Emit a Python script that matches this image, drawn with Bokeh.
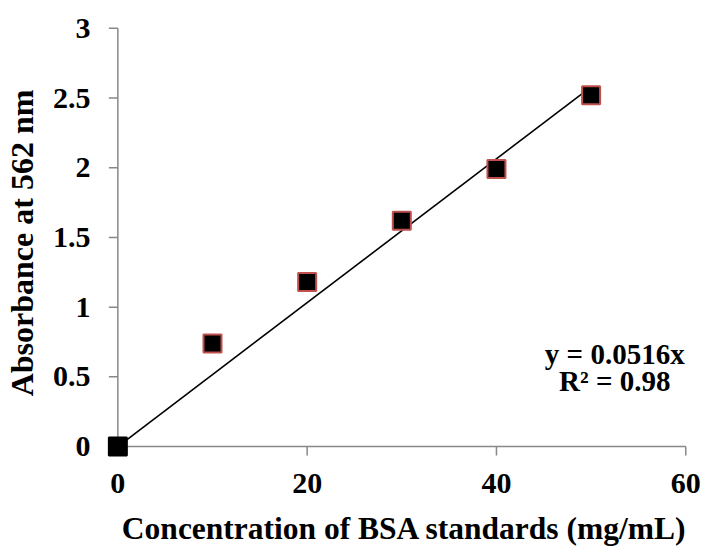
import math
from bokeh.plotting import figure
from bokeh.models import FixedTicker, Range1d, Label
from bokeh.embed import file_html
from bokeh.resources import INLINE

# Data
concentration = [0, 10, 20, 30, 40, 50]
absorbance = [0.0, 0.74, 1.18, 1.62, 1.99, 2.52]
slope = 0.0516
r_squared = 0.98

x_ticks = [0, 20, 40, 60]
y_ticks = [0, 0.5, 1, 1.5, 2, 2.5, 3]
y_tick_labels = ["0", "0.5", "1", "1.5", "2", "2.5", "3"]

FONT = "Liberation Serif"
AXIS_GRAY = "#888888"

# small padding below/left of zero so the marker at the origin is not clipped
p = figure(width=702, height=548, output_backend="svg", toolbar_location=None,
           x_range=Range1d(-1.2, 61.77), y_range=Range1d(-0.1, 3.02),
           min_border_left=104, min_border_right=0, min_border_top=25, min_border_bottom=84)
p.outline_line_color = None
p.grid.visible = False
p.background_fill_color = "white"
p.border_fill_color = "white"

# axis lines and tick marks at the data zero lines
x0, x1 = x_ticks[0], x_ticks[-1]
y0, y1 = y_ticks[0], y_ticks[-1]
p.line([x0, x1], [y0, y0], line_color=AXIS_GRAY, line_width=1.5)
p.line([x0, x0], [y0, y1], line_color=AXIS_GRAY, line_width=1.5)
p.ray(x=[x0] * len(y_ticks), y=y_ticks, length=9, length_units="screen",
      angle=math.pi, line_color=AXIS_GRAY, line_width=1.5)
p.ray(x=x_ticks, y=[y0] * len(x_ticks), length=9, length_units="screen",
      angle=-math.pi / 2, line_color=AXIS_GRAY, line_width=1.5)

# trendline y = slope * x through the data range
xl = [min(concentration), max(concentration)]
p.line(xl, [slope * v for v in xl], line_color="black", line_width=1.6)

border_colors = ["black"] + ["#c0504d"] * (len(concentration) - 1)
p.scatter(concentration, absorbance, marker="square", size=18,
          fill_color="black", line_color=border_colors, line_width=2)

for ax in (p.xaxis[0], p.yaxis[0]):
    ax.axis_line_color = None
    ax.major_tick_line_color = None
    ax.major_tick_out = 0
    ax.major_tick_in = 0
    ax.minor_tick_line_color = None
    ax.major_label_text_font = FONT
    ax.major_label_text_font_style = "bold"
    ax.major_label_text_font_size = "30px"
    ax.major_label_text_color = "black"
    ax.axis_label_text_font = FONT
    ax.axis_label_text_font_style = "bold"
    ax.axis_label_text_color = "black"

p.xaxis.ticker = FixedTicker(ticks=x_ticks)
p.yaxis.ticker = FixedTicker(ticks=y_ticks)
p.yaxis.major_label_overrides = {t: s for t, s in zip(y_ticks, y_tick_labels)}
p.xaxis.axis_label_text_font_size = "31.5px"
p.yaxis.axis_label_text_font_size = "32px"
p.xaxis.major_label_standoff = 13
p.yaxis.major_label_standoff = 16
p.xaxis.axis_label = "Concentration of BSA standards (mg/mL)"
p.yaxis.axis_label = "Absorbance at 562 nm"
p.xaxis.axis_label_standoff = 15
p.yaxis.axis_label_standoff = 10

for txt, yv in ((f"y = {slope}x", 0.661), (f"R\u00b2 = {r_squared}", 0.469)):
    p.add_layout(Label(x=52.5, y=yv, text=txt, text_font=FONT, text_font_style="bold",
                       text_font_size="29px", text_color="black",
                       text_align="center", text_baseline="middle"))

open("out.html", "w").write(file_html(p, INLINE))
